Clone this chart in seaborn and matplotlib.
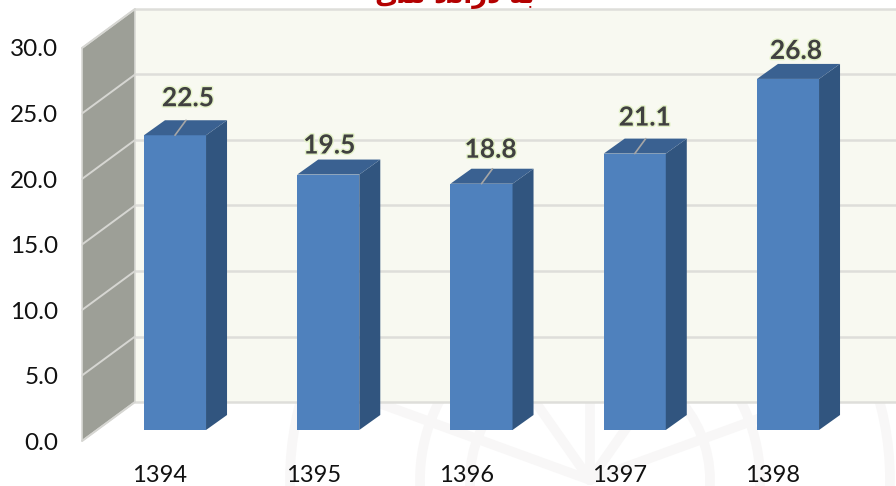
import numpy as np
import pandas as pd
import matplotlib
matplotlib.use("Agg")
import matplotlib.pyplot as plt
import matplotlib.patheffects as pe
from matplotlib.patches import Polygon, Ellipse
from matplotlib.transforms import ScaledTranslation
import seaborn as sns

years = ["1394", "1395", "1396", "1397", "1398"]
values = [22.5, 19.5, 18.8, 21.1, 26.8]
y_ticks = [0, 5, 10, 15, 20, 25, 30]
y_labels = ["0.0", "5.0", "10.0", "15.0", "20.0", "25.0", "30.0"]
# only the bottom of this title is inside the picture (glyphs in visual order)
title_text = "\ufeef\ufee0\ufee3 \ufea9\ufee3\ufe81\ufead\ufea9 \ufeea\ufe91"
# label offsets from the top centre of each bar, in pixels
label_dx = [13, 1, 9, 10, 8]
label_up = [37, 29, 34, 36, 28]
has_leader = [True, False, True, True, False]

sns.set_theme(style="white")
plt.rcParams["font.family"] = ["Lato", "DejaVu Sans"]

W, H = 896, 486
fig = plt.figure(figsize=(W / 100, H / 100), dpi=100)
fig.patch.set_facecolor("white")

# faint watermark behind the chart
bg = fig.add_axes([0, 0, 1, 1], zorder=0)
bg.set_xlim(0, W)
bg.set_ylim(H, 0)
bg.axis("off")
for r in [120, 170, 300]:
    bg.add_patch(Ellipse((590, 480), 2 * r, 2 * r, fill=False, ec="#f8f7f7", lw=7))
for a in np.deg2rad([200, 235, 270, 305, 340]):
    bg.plot([590, 590 + 320 * np.cos(a)], [480, 480 + 320 * np.sin(a)], color="#f8f7f7", lw=7)

# axes = front plane of the 3d box, pixels 82..896 and 48..441
left, right, top, bottom = 82, 896, 48, 441
ax = fig.add_axes([left / W, 1 - bottom / H, (right - left) / W, (bottom - top) / H], zorder=1)
ax.patch.set_alpha(0)
px = 153.25  # pixels per category
py = (bottom - top) / 30  # pixels per unit
x0, x1 = (left - 160) / px, (right - 160) / px
ax.set_xlim(x0, x1)
ax.set_ylim(0, 30)


def box(dx, dy):
    return ax.transData + ScaledTranslation(dx / 100, dy / 100, fig.dpi_scale_trans)


wall = "#9d9f97"
back = "#f8f9f1"
grid = "#dededa"
depth_x, depth_y = 53, 39

# back wall and side wall
ax.add_patch(Polygon([(x0, 0), (x1 + 1, 0), (x1 + 1, 30), (x0, 30)], fc=back, ec="none",
                     transform=box(depth_x, depth_y), clip_on=False, zorder=1))
ax.add_patch(Polygon([(x0, 0), (x0 + depth_x / px, depth_y / py), (x0 + depth_x / px, 30 + depth_y / py), (x0, 30)],
                     fc=wall, ec="#d9d9d5", lw=1.2, clip_on=False, zorder=2))
for t in y_ticks:
    ax.plot([x0 + depth_x / px, x1 + 1], [t + depth_y / py] * 2, color=grid, lw=1.8, clip_on=False, zorder=2)
    ax.plot([x0, x0 + depth_x / px], [t, t + depth_y / py], color="#d6d6d2", lw=1.4, clip_on=False, zorder=3)

data = pd.DataFrame({"year": years, "value": values})
sns.barplot(data=data, x="year", y="value", color="#4f81bd", saturation=1, width=0.405, ax=ax, zorder=4,
            edgecolor="none", linewidth=0)
ax.set_xlim(x0, x1)
ax.set_ylim(0, 30)

# front face sits 15px right and 11px up from the front plane, 21x15 px deep
front = box(15, 11)
for i, (bar, v) in enumerate(zip(ax.containers[0], values)):
    bar.set_transform(front)
    bar.set_clip_on(False)
    a = bar.get_x()
    b = a + bar.get_width()
    ddx, ddy = 21 / px, 15 / py
    ax.add_patch(Polygon([(b, 0), (b + ddx, ddy), (b + ddx, v + ddy), (b, v)], fc="#31557f", ec="none",
                         transform=front, clip_on=False, zorder=4))
    ax.add_patch(Polygon([(a, v), (a + ddx, v + ddy), (b + ddx, v + ddy), (b, v)], fc="#3a6191", ec="none",
                         transform=front, clip_on=False, zorder=4))
    c = (a + b) / 2
    # short leader from bar top to the value label
    if has_leader[i]:
        ax.plot([c, c + 11 / px], [v, v + ddy], color="#a6a6a6", lw=1.2, transform=front, clip_on=False, zorder=5)
    ax.annotate(f"{v:.1f}", (c, v), xycoords=front, xytext=(label_dx[i], label_up[i]), textcoords="offset pixels",
                ha="center", va="center", fontsize=19, fontweight="bold", color="#404040", zorder=6,
                path_effects=[pe.withStroke(linewidth=2, foreground="#e4f2c8")])

sns.despine(ax=ax, left=True, bottom=True)
ax.set_xlabel("")
ax.set_ylabel("")
ax.set_yticks(y_ticks, y_labels)
ax.set_xticks(range(len(years)), years)
ax.tick_params(axis="y", length=0, pad=17, labelsize=17.5, labelcolor="#111111")
ax.tick_params(axis="x", length=0, pad=17, labelsize=17, labelcolor="#111111")

fig.text(455 / W, 1 - 3 / H, title_text, ha="center", va="baseline", fontsize=18.5, fontweight="bold",
         color="#b30000", family="DejaVu Sans")

fig.savefig("out.png", dpi=100)
